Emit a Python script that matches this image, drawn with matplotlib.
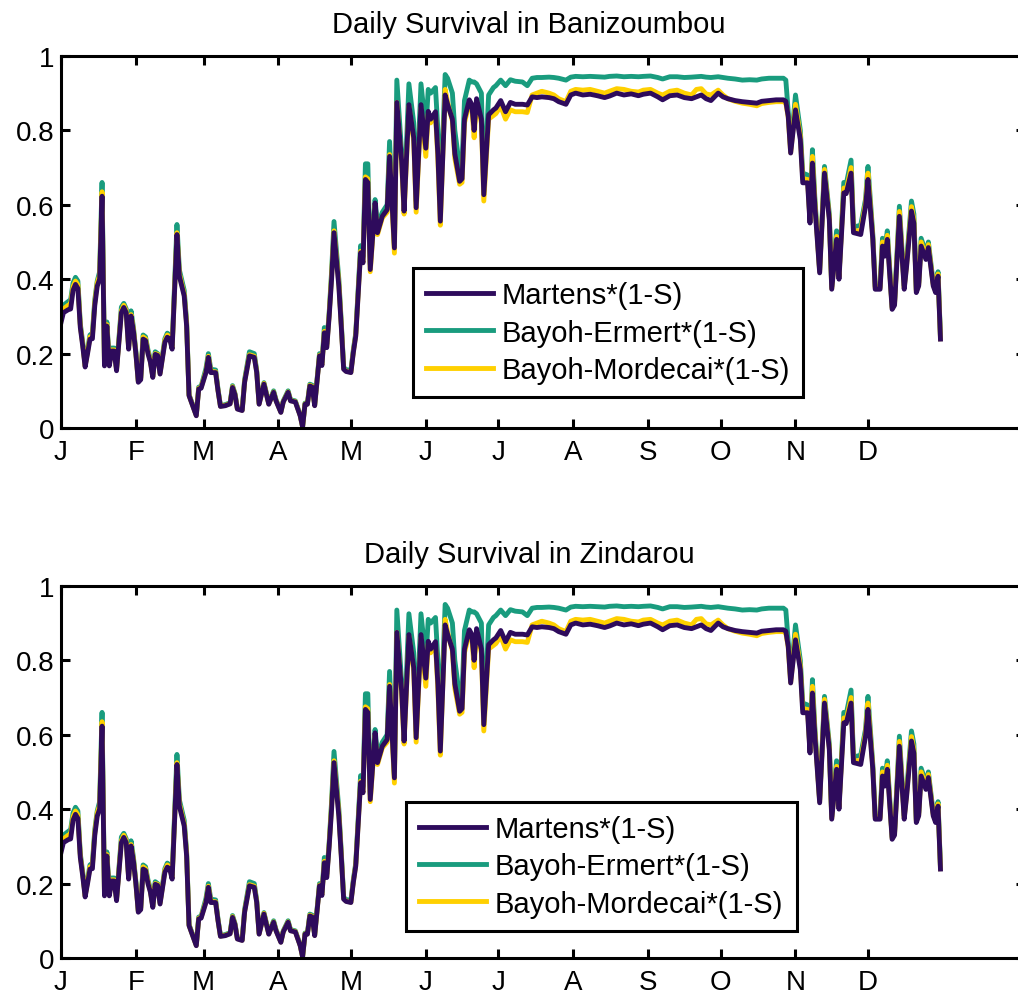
import matplotlib
matplotlib.use("Agg")
import matplotlib.pyplot as plt

plt.rcParams['font.family'] = ['Liberation Sans', 'DejaVu Sans']

# day of year for each reading
days = [1, 2, 4, 5, 6, 7, 8, 9, 10, 11, 12, 13, 14, 15, 16, 17, 18, 19, 20, 21,
        22, 23, 24, 26, 27, 28, 29, 30, 31, 32, 33, 34, 35, 36, 37, 38, 39, 40, 41, 42,
        44, 45, 46, 47, 49, 50, 52, 53, 54, 56, 57, 58, 59, 61, 62, 63, 65, 66, 67, 69,
        71, 72, 73, 74, 76, 77, 79, 81, 82, 83, 85, 87, 89, 90, 92, 93, 95, 96, 98, 100,
        101, 102, 103, 104, 105, 106, 108, 109, 110, 111, 112, 113, 114, 116, 117, 118, 119, 121, 122, 123,
        125, 126, 127, 128, 129, 131, 132, 134, 136, 137, 139, 140, 142, 143, 145, 147, 148, 150, 152, 153,
        154, 156, 157, 158, 160, 161, 163, 164, 166, 167, 168, 170, 171, 172, 173, 175, 176, 178, 180, 181,
        183, 185, 187, 189, 192, 194, 196, 198, 200, 203, 205, 207, 210, 212, 214, 217, 220, 223, 226, 228,
        231, 234, 237, 240, 242, 245, 248, 250, 253, 256, 259, 262, 264, 266, 268, 270, 273, 275, 277, 280,
        283, 286, 289, 291, 294, 297, 300, 301, 302, 303, 305, 307, 308, 310, 311, 312, 313, 315, 317, 319,
        320, 322, 323, 325, 326, 328, 329, 332, 334, 335, 337, 338, 340, 341, 342, 343, 345, 346, 348, 350,
        351, 353, 354, 355, 356, 357, 359, 360, 362, 363, 364, 365]

martens = [0.283, 0.31, 0.318, 0.32, 0.37, 0.386, 0.375, 0.27, 0.22, 0.164, 0.2, 0.239, 0.24, 0.33, 0.381, 0.40, 0.623, 0.167, 0.274, 0.167,
           0.207, 0.207, 0.154, 0.31, 0.324, 0.31, 0.212, 0.301, 0.26, 0.2, 0.123, 0.13, 0.239, 0.235, 0.2, 0.177, 0.136, 0.198, 0.195, 0.145,
           0.23, 0.244, 0.24, 0.212, 0.52, 0.408, 0.355, 0.274, 0.087, 0.051, 0.033, 0.105, 0.107, 0.149, 0.19, 0.149, 0.149, 0.1, 0.058, 0.06,
           0.065, 0.109, 0.09, 0.051, 0.047, 0.123, 0.194, 0.19, 0.15, 0.064, 0.118, 0.064, 0.096, 0.073, 0.042, 0.07, 0.096, 0.073, 0.07, 0.033,
           0.003, 0.064, 0.064, 0.113, 0.11, 0.06, 0.194, 0.168, 0.256, 0.216, 0.3, 0.4, 0.525, 0.381, 0.274, 0.158, 0.152, 0.149, 0.203, 0.247,
           0.471, 0.444, 0.668, 0.66, 0.426, 0.605, 0.525, 0.569, 0.587, 0.73, 0.484, 0.875, 0.717, 0.583, 0.869, 0.78, 0.592, 0.869, 0.752, 0.851,
           0.83, 0.85, 0.735, 0.556, 0.895, 0.87, 0.83, 0.737, 0.663, 0.67, 0.83, 0.882, 0.87, 0.8, 0.885, 0.83, 0.627, 0.842, 0.855, 0.86,
           0.88, 0.85, 0.875, 0.87, 0.87, 0.868, 0.89, 0.888, 0.89, 0.888, 0.885, 0.877, 0.87, 0.895, 0.9, 0.895, 0.897, 0.893, 0.888, 0.892,
           0.9, 0.895, 0.898, 0.893, 0.897, 0.9, 0.89, 0.882, 0.893, 0.895, 0.888, 0.885, 0.89, 0.895, 0.885, 0.88, 0.9, 0.89, 0.885, 0.88,
           0.877, 0.875, 0.873, 0.878, 0.88, 0.882, 0.882, 0.878, 0.837, 0.739, 0.855, 0.775, 0.659, 0.659, 0.551, 0.712, 0.6, 0.417, 0.685, 0.56,
           0.373, 0.507, 0.4, 0.632, 0.63, 0.685, 0.525, 0.52, 0.596, 0.668, 0.507, 0.373, 0.373, 0.489, 0.462, 0.507, 0.319, 0.33, 0.569, 0.373,
           0.435, 0.583, 0.55, 0.364, 0.382, 0.489, 0.453, 0.485, 0.382, 0.364, 0.408, 0.239]

ermert = [0.30, 0.33, 0.34, 0.345, 0.39, 0.405, 0.395, 0.28, 0.23, 0.17, 0.21, 0.25, 0.255, 0.345, 0.395, 0.42, 0.66, 0.175, 0.285, 0.175,
          0.215, 0.215, 0.16, 0.325, 0.335, 0.32, 0.22, 0.315, 0.27, 0.205, 0.127, 0.135, 0.25, 0.245, 0.21, 0.185, 0.14, 0.205, 0.2, 0.15,
          0.24, 0.255, 0.25, 0.22, 0.547, 0.425, 0.37, 0.285, 0.09, 0.053, 0.035, 0.11, 0.112, 0.16, 0.2, 0.158, 0.156, 0.104, 0.06, 0.063,
          0.068, 0.114, 0.093, 0.053, 0.05, 0.13, 0.205, 0.2, 0.155, 0.067, 0.122, 0.067, 0.1, 0.076, 0.044, 0.073, 0.1, 0.076, 0.073, 0.035,
          0.004, 0.067, 0.067, 0.118, 0.115, 0.063, 0.2, 0.175, 0.27, 0.225, 0.31, 0.42, 0.555, 0.4, 0.285, 0.163, 0.157, 0.155, 0.21, 0.255,
          0.49, 0.46, 0.71, 0.71, 0.44, 0.614, 0.545, 0.58, 0.6, 0.77, 0.49, 0.935, 0.74, 0.6, 0.925, 0.82, 0.61, 0.925, 0.8, 0.91,
          0.9, 0.915, 0.8, 0.6, 0.95, 0.94, 0.9, 0.8, 0.7, 0.71, 0.88, 0.935, 0.93, 0.93, 0.925, 0.9, 0.635, 0.895, 0.915, 0.92,
          0.935, 0.92, 0.936, 0.932, 0.93, 0.92, 0.94, 0.942, 0.942, 0.943, 0.942, 0.94, 0.935, 0.943, 0.945, 0.944, 0.945, 0.944, 0.943, 0.945,
          0.946, 0.944, 0.945, 0.944, 0.945, 0.946, 0.942, 0.938, 0.944, 0.944, 0.942, 0.943, 0.944, 0.945, 0.943, 0.942, 0.944, 0.942, 0.94, 0.938,
          0.935, 0.936, 0.935, 0.938, 0.94, 0.94, 0.94, 0.935, 0.85, 0.75, 0.895, 0.8, 0.685, 0.68, 0.56, 0.748, 0.62, 0.425, 0.703, 0.575,
          0.38, 0.53, 0.41, 0.66, 0.655, 0.72, 0.54, 0.545, 0.615, 0.703, 0.52, 0.38, 0.38, 0.51, 0.48, 0.53, 0.325, 0.338, 0.596, 0.382,
          0.45, 0.61, 0.575, 0.372, 0.39, 0.51, 0.47, 0.5, 0.39, 0.372, 0.42, 0.245]

mordecai = [0.29, 0.32, 0.33, 0.333, 0.38, 0.395, 0.385, 0.275, 0.225, 0.167, 0.205, 0.245, 0.247, 0.337, 0.39, 0.41, 0.635, 0.17, 0.278, 0.17,
            0.21, 0.21, 0.157, 0.315, 0.33, 0.315, 0.215, 0.305, 0.265, 0.2, 0.125, 0.132, 0.245, 0.24, 0.205, 0.18, 0.138, 0.2, 0.198, 0.147,
            0.235, 0.25, 0.245, 0.215, 0.525, 0.415, 0.36, 0.28, 0.088, 0.052, 0.034, 0.107, 0.109, 0.152, 0.193, 0.152, 0.151, 0.101, 0.059, 0.061,
            0.066, 0.111, 0.091, 0.052, 0.048, 0.125, 0.197, 0.193, 0.152, 0.065, 0.12, 0.065, 0.097, 0.074, 0.043, 0.071, 0.097, 0.074, 0.071, 0.034,
            0.003, 0.065, 0.065, 0.115, 0.112, 0.061, 0.196, 0.17, 0.26, 0.22, 0.305, 0.41, 0.53, 0.39, 0.278, 0.16, 0.153, 0.15, 0.205, 0.25,
            0.475, 0.445, 0.675, 0.67, 0.42, 0.6, 0.52, 0.565, 0.58, 0.735, 0.47, 0.875, 0.71, 0.575, 0.865, 0.77, 0.58, 0.86, 0.73, 0.845,
            0.82, 0.845, 0.72, 0.545, 0.91, 0.875, 0.825, 0.725, 0.655, 0.66, 0.82, 0.875, 0.865, 0.78, 0.88, 0.82, 0.61, 0.83, 0.84, 0.845,
            0.865, 0.83, 0.855, 0.85, 0.85, 0.848, 0.895, 0.9, 0.905, 0.9, 0.895, 0.885, 0.877, 0.905, 0.91, 0.908, 0.91, 0.905, 0.9, 0.905,
            0.912, 0.91, 0.905, 0.903, 0.908, 0.91, 0.9, 0.895, 0.905, 0.908, 0.9, 0.895, 0.91, 0.912, 0.898, 0.895, 0.908, 0.895, 0.885, 0.878,
            0.873, 0.87, 0.866, 0.872, 0.875, 0.877, 0.877, 0.873, 0.835, 0.74, 0.87, 0.785, 0.67, 0.668, 0.555, 0.73, 0.61, 0.42, 0.695, 0.565,
            0.375, 0.515, 0.405, 0.645, 0.64, 0.7, 0.53, 0.53, 0.605, 0.685, 0.512, 0.376, 0.376, 0.5, 0.47, 0.518, 0.322, 0.334, 0.582, 0.377,
            0.44, 0.595, 0.56, 0.368, 0.385, 0.5, 0.46, 0.493, 0.386, 0.368, 0.414, 0.24]

month_days = [1, 32, 60, 91, 121, 152, 182, 213, 244, 274, 305, 335]
month_labels = ['J', 'F', 'M', 'A', 'M', 'J', 'J', 'A', 'S', 'O', 'N', 'D']
yticks = [0, 0.2, 0.4, 0.6, 0.8, 1]
ytick_labels = ['0', '0.2', '0.4', '0.6', '0.8', '1']

titles = ['Daily Survival in Banizoumbou', 'Daily Survival in Zindarou']
labels = ['Martens*(1-S)', 'Bayoh-Ermert*(1-S)', 'Bayoh-Mordecai*(1-S)']

c_mar = '#2E0B5C'
c_erm = '#199C7E'
c_mor = '#FFD000'

fig = plt.figure(figsize=(10.18, 9.95), dpi=100)

positions = [[0.0599, 0.5688, 0.947, 0.374], [0.0599, 0.0362, 0.947, 0.374]]
leg_anchor = [(0.365, 0.083), (0.358, 0.073)]

for i in range(2):
    ax = fig.add_axes(positions[i])
    l2, = ax.plot(days, ermert, color=c_erm, lw=3.5)
    l3, = ax.plot(days, mordecai, color=c_mor, lw=3.5)
    l1, = ax.plot(days, martens, color=c_mar, lw=3.5)

    ax.set_xlim(1, 400)
    ax.set_ylim(0, 1)
    ax.set_xticks(month_days)
    ax.set_xticklabels(month_labels)
    ax.set_yticks(yticks)
    ax.set_yticklabels(ytick_labels)
    ax.tick_params(direction='in', length=6.5, width=2.2, labelsize=20,
                   top=True, right=True)
    ax.tick_params(axis='x', pad=8)
    ax.tick_params(axis='y', pad=5)
    for s in ax.spines.values():
        s.set_linewidth(2.2)
    ax.set_title(titles[i], fontsize=21, x=0.4855, pad=17)

    leg = ax.legend([l1, l2, l3], labels, loc='lower left',
                    bbox_to_anchor=leg_anchor[i], borderaxespad=0,
                    fontsize=21, fancybox=False, handlelength=2.3,
                    handletextpad=0.3, labelspacing=0.32, borderpad=0.45)
    leg.get_frame().set_edgecolor('black')
    leg.get_frame().set_linewidth(2.2)
    leg.get_frame().set_alpha(1)
    for h in leg.get_lines():
        h.set_linewidth(3.5)

fig.savefig('out.png', dpi=100)
